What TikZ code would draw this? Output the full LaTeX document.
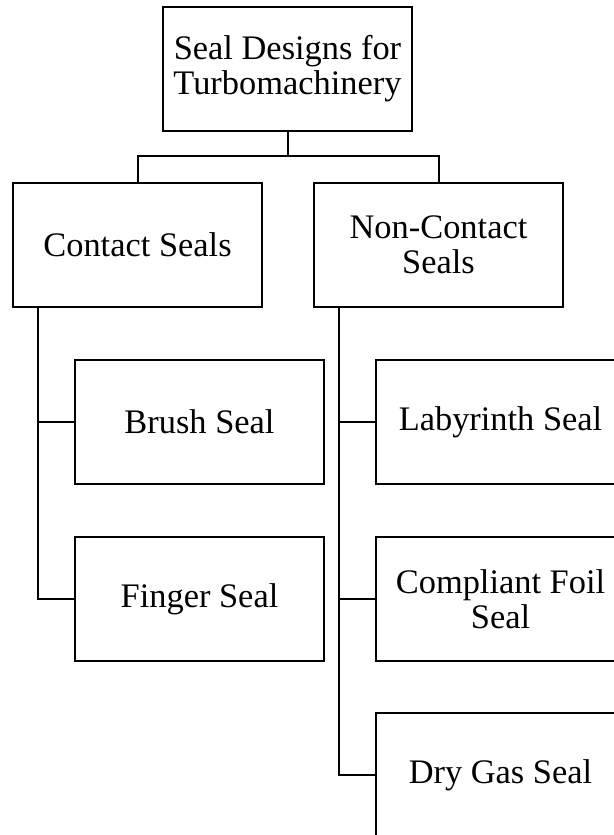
\documentclass[tikz,border=0pt]{standalone}
\usepackage{fontspec}
\setmainfont{Liberation Serif}
\usepackage{tikz}
\usetikzlibrary{positioning}

\begin{document}
\begin{tikzpicture}[
    x=0.5pt, y=-0.5pt, line width=1pt,
    sbox/.style={draw, minimum width=124.5pt, minimum height=62pt, inner sep=0pt, outer sep=0pt, align=center, font=\fontsize{17.2pt}{17.6pt}\selectfont}
]
\useasboundingbox (0,0) rectangle (614,835);
\clip (0,0) rectangle (614,835);

\node[sbox] (root) at (287.5, 68.5) {Seal Designs for\\Turbomachinery};
\node[sbox] (contact) at (137.5, 245) {Contact Seals};
\node[sbox] (noncontact) at (438.5, 245) {Non-Contact\\Seals};

\node[sbox] (brush) at (199.5, 422) {Brush Seal};
\node[sbox] (finger) at (199.5, 599) {Finger Seal};
\node[sbox] (labyrinth) at (500.5, 422) {Labyrinth Seal};
\node[sbox] (foil) at (500.5, 599) {Compliant Foil\\Seal};
\node[sbox] (drygas) at (500.5, 775) {Dry Gas Seal};

\coordinate (bar) at (287.5, 156);
\coordinate (ctrunk) at ([xshift=12.5pt]contact.south west);
\coordinate (ntrunk) at ([xshift=12.5pt]noncontact.south west);

\draw (root.south) -- (bar);
\draw (contact.north) |- (bar) -| (noncontact.north);

\draw (ctrunk) |- (finger.west);
\draw (ctrunk |- brush.west) -- (brush.west);

\draw (ntrunk) |- (drygas.west);
\draw (ntrunk |- labyrinth.west) -- (labyrinth.west);
\draw (ntrunk |- foil.west) -- (foil.west);
\end{tikzpicture}
\end{document}
